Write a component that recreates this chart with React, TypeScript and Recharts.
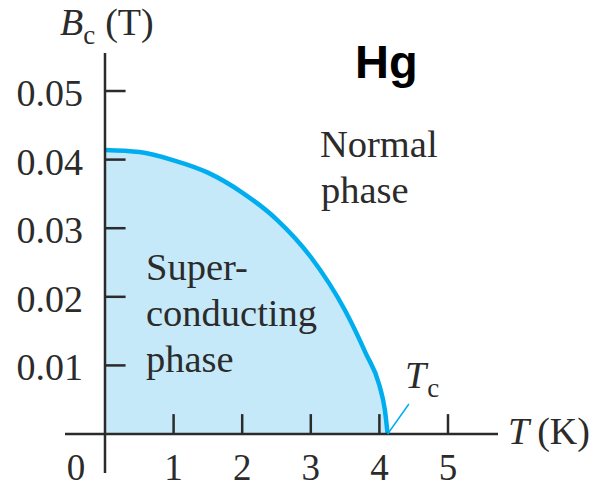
import { ComposedChart, Area, XAxis, YAxis, ReferenceLine } from "recharts"

// critical field of mercury
const T_K = [0, 0.5, 1.0, 1.5, 2.0, 2.5, 3.0, 3.5, 3.8, 4.0, 4.08, 4.12]
const BC_T = [0.0414, 0.0411, 0.0399, 0.0381, 0.0352, 0.0313, 0.0258, 0.018, 0.0118, 0.0071, 0.0035, 0]

const X_TICKS = [1, 2, 3, 4, 5]
const X_TICK_LABELS = ["1", "2", "3", "4", "5"]
const Y_TICKS = [0.01, 0.02, 0.03, 0.04, 0.05]
const Y_TICK_LABELS = ["0.01", "0.02", "0.03", "0.04", "0.05"]

const TC = 4.12

const data = T_K.map((t, i) => ({ t, bc: BC_T[i] }))

const INK = "#2b2b2b"
const CYAN = "#00aeef"
const FILL = "#c6e9f9"
const SERIF = "'Liberation Serif', 'Times New Roman', serif"
const SANS = "'Liberation Sans', Arial, sans-serif"

// tick length in data units (~21px)
const X_TICK_LEN = 0.0029
const Y_TICK_LEN = 0.3
const Y_AXIS_BOTTOM = -0.005685
const Y_AXIS_TOP = 0.05554

export default function App() {
  return (
    <div style={{ position: "absolute", left: 0, top: 0, width: 589, height: 488, background: "#fff" }}>
      <ComposedChart
        width={589}
        height={488}
        data={data}
        margin={{ top: 53, right: 91, bottom: 0, left: 65 }}
      >
        <XAxis type="number" dataKey="t" domain={[-0.583, 5.729]} hide allowDataOverflow />
        <YAxis type="number" domain={[-0.00787, Y_AXIS_TOP]} hide allowDataOverflow />
        <Area
          type="monotone"
          dataKey="bc"
          baseValue={0}
          stroke={CYAN}
          strokeWidth={4.5}
          fill={FILL}
          fillOpacity={1}
          isAnimationActive={false}
        />
        {/* axes */}
        <ReferenceLine
          segment={[{ x: 0, y: Y_AXIS_BOTTOM }, { x: 0, y: Y_AXIS_TOP }]}
          stroke={INK}
          strokeWidth={2.5}
        />
        <ReferenceLine y={0} stroke={INK} strokeWidth={2.5} />
        {Y_TICKS.map((v, i) => (
          <ReferenceLine
            key={"y" + v}
            segment={[{ x: 0, y: v }, { x: Y_TICK_LEN, y: v }]}
            stroke={INK}
            strokeWidth={2.5}
            label={({ viewBox }: any) => (
              <text
                x={viewBox.x - 22}
                y={viewBox.y + 15}
                textAnchor="end"
                fontFamily={SERIF}
                fontSize={38}
                fill={INK}
              >
                {Y_TICK_LABELS[i]}
              </text>
            )}
          />
        ))}
        {X_TICKS.map((v, i) => (
          <ReferenceLine
            key={"x" + v}
            segment={[{ x: v, y: 0 }, { x: v, y: X_TICK_LEN }]}
            stroke={INK}
            strokeWidth={2.5}
            label={({ viewBox }: any) => (
              <text
                x={viewBox.x}
                y={viewBox.y + viewBox.height + 46}
                textAnchor="middle"
                fontFamily={SERIF}
                fontSize={37}
                fill={INK}
              >
                {X_TICK_LABELS[i]}
              </text>
            )}
          />
        ))}
        {/* Tc pointer */}
        <ReferenceLine
          segment={[{ x: TC, y: 0 }, { x: 4.43, y: 0.00437 }]}
          stroke={CYAN}
          strokeWidth={1.5}
        />
      </ComposedChart>
      <svg
        width={589}
        height={488}
        style={{ position: "absolute", left: 0, top: 0, pointerEvents: "none" }}
      >
        <text x={76} y={480} textAnchor="middle" fontFamily={SERIF} fontSize={37} fill={INK}>
          0
        </text>
        <text x={60} y={35} fontFamily={SERIF} fontSize={38} fill={INK}>
          <tspan fontStyle="italic">B</tspan>
          <tspan fontSize={27} dy={9}>c</tspan>
          <tspan dy={-9} dx={10}>(T)</tspan>
        </text>
        <text x={508} y={444} fontFamily={SERIF} fontSize={38} fill={INK}>
          <tspan fontStyle="italic">T</tspan>
          <tspan dx={8}>(K)</tspan>
        </text>
        <text x={405} y={388} fontFamily={SERIF} fontSize={38} fill={INK}>
          <tspan fontStyle="italic">T</tspan>
          <tspan fontSize={27} dy={9} dx={1}>c</tspan>
        </text>
        <text x={355} y={78} fontFamily={SANS} fontWeight="bold" fontSize={47} fill="#000">
          Hg
        </text>
        <text fontFamily={SERIF} fontSize={38.5} fill={INK}>
          <tspan x={320} y={157}>Normal</tspan>
          <tspan x={321} y={203}>phase</tspan>
        </text>
        <text fontFamily={SERIF} fontSize={38.5} fill={INK}>
          <tspan x={146} y={280}>Super-</tspan>
          <tspan x={146} y={326}>conducting</tspan>
          <tspan x={146} y={372}>phase</tspan>
        </text>
      </svg>
    </div>
  )
}
